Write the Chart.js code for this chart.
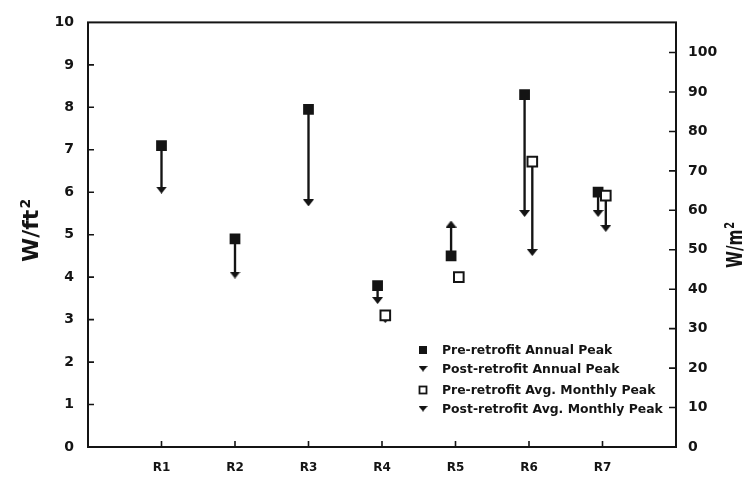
<!DOCTYPE html>
<html lang="en">
<head>
  <meta charset="UTF-8">
  <title>Peak demand before and after retrofit</title>
  <script src="https://cdn.jsdelivr.net/npm/chart.js"></script>
  <style>
    html, body { margin: 0; padding: 0; background: #fff; }
  </style>
</head>
<body>
  <canvas id="peakChart" width="744" height="477"></canvas>

  <script>
    // Data (W/ft2)
    const sites = ['R1', 'R2', 'R3', 'R4', 'R5', 'R6', 'R7'];
    const preAnnual = [7.1, 4.9, 7.95, 3.8, 4.5, 8.3, 6.0];
    const postAnnual = [6.05, 4.05, 5.75, 3.45, 5.25, 5.5, 5.5];
    const preMonthly = [null, null, null, 3.1, 4.0, 6.72, 5.92];
    const postMonthly = [null, null, null, 3.0, null, 4.58, 5.15];
    const leftTicks = [0, 1, 2, 3, 4, 5, 6, 7, 8, 9, 10];
    const rightTicks = [0, 10, 20, 30, 40, 50, 60, 70, 80, 90, 100];
    const seriesNames = [
      'Pre-retrofit Annual Peak',
      'Post-retrofit Annual Peak',
      'Pre-retrofit Avg. Monthly Peak',
      'Post-retrofit Avg. Monthly Peak'
    ];
    const WM2_PER_WFT2 = 10.764;

    const ink = '#141414';

    // small arrow head used as point style (points down, rotated for up)
    function arrowHead(w, h) {
      const c = document.createElement('canvas');
      c.width = w; c.height = h;
      const g = c.getContext('2d');
      g.fillStyle = ink;
      g.beginPath();
      g.moveTo(0, 0);
      g.lineTo(w, 0);
      g.lineTo(w / 2, h);
      g.closePath();
      g.fill();
      return c;
    }
    const arrow = arrowHead(11, 7);

    // sites with monthly data have the two pairs side by side
    const annualX = sites.map((s, i) => i + 1 + (preMonthly[i] !== null ? -0.06 : 0));
    const monthlyX = sites.map((s, i) => i + 1 + 0.045);

    const pts = (xs, ys) => ys.map((v, i) => ({ x: xs[i], y: v })).filter(p => p.y !== null);
    const spans = (xs, a, b) => a.map((v, i) => ({ x: xs[i], y: [v, b[i]] }))
      .filter(p => p.y[0] !== null && p.y[1] !== null);
    const turn = (a, b) => a.map((v, i) => (b[i] !== null && v !== null && b[i] > v) ? 180 : 0)
      .filter((r, i) => b[i] !== null);

    const frameAndTicks = {
      id: 'frameAndTicks',
      afterDatasetsDraw(chart) {
        const { ctx, chartArea: a, scales } = chart;
        ctx.save();
        ctx.strokeStyle = ink;
        ctx.lineWidth = 1.6;
        // inward tick marks
        ctx.beginPath();
        leftTicks.slice(1, -1).forEach(v => {
          const y = scales.y.getPixelForValue(v);
          ctx.moveTo(a.left, y); ctx.lineTo(a.left + 6, y);
        });
        rightTicks.slice(1).forEach(v => {
          const y = scales.y2.getPixelForValue(v);
          ctx.moveTo(a.right, y); ctx.lineTo(a.right - 7, y);
        });
        sites.forEach((s, i) => {
          const x = scales.x.getPixelForValue(i + 1);
          ctx.moveTo(x, a.bottom); ctx.lineTo(x, a.bottom - 6);
        });
        ctx.stroke();
        ctx.lineWidth = 2;
        ctx.strokeRect(a.left, a.top, a.right - a.left, a.bottom - a.top);
        ctx.restore();
      },
      afterDraw(chart) {
        const { ctx, chartArea: a } = chart;
        ctx.save();
        ctx.fillStyle = ink;
        ctx.strokeStyle = ink;

        // axis titles, both read bottom to top
        const title = (x, y, main, sup, size, squeeze) => {
          ctx.save();
          ctx.translate(x, y);
          ctx.rotate(-Math.PI / 2);
          ctx.scale(squeeze, 1);
          ctx.textAlign = 'left';
          ctx.textBaseline = 'alphabetic';
          ctx.font = 'bold ' + size + 'px "DejaVu Sans"';
          ctx.fillText(main, 0, 0);
          const w = ctx.measureText(main).width;
          ctx.font = 'bold ' + Math.round(size * 0.64) + 'px "DejaVu Sans"';
          ctx.fillText(sup, w + 1, -size * 0.36);
          ctx.restore();
        };
        title(38, 262, 'W/ft', '2', 22, 1);
        title(742, 268, 'W/m', '2', 22, 0.7);

        // legend, bottom right inside the plot
        const lx = a.left + 335, tx = a.left + 354;
        const rows = [a.bottom - 97, a.bottom - 78, a.bottom - 57, a.bottom - 38];
        ctx.font = 'bold 12.4px "DejaVu Sans"';
        ctx.textBaseline = 'middle';
        ctx.textAlign = 'left';
        seriesNames.forEach((name, i) => {
          const y = rows[i];
          if (i === 0) ctx.fillRect(lx - 4, y - 4, 8, 8);
          if (i === 2) { ctx.lineWidth = 1.8; ctx.strokeRect(lx - 3.5, y - 3.5, 7, 7); }
          if (i === 1 || i === 3) ctx.drawImage(arrow, lx - 4.5, y - 3, 9, 5.5);
          ctx.fillText(name, tx, y + 1);
        });
        ctx.restore();
      }
    };

    new Chart(document.getElementById('peakChart'), {
      type: 'scatter',
      data: {
        datasets: [
          {
            label: seriesNames[0],
            data: pts(annualX, preAnnual),
            pointStyle: 'rect',
            pointRadius: 7.6,
            backgroundColor: ink,
            borderWidth: 0,
            order: 1
          },
          {
            label: seriesNames[1],
            data: pts(annualX, postAnnual),
            pointStyle: arrow,
            pointRotation: turn(preAnnual, postAnnual),
            order: 1
          },
          {
            label: seriesNames[2],
            data: pts(monthlyX, preMonthly),
            pointStyle: 'rect',
            pointRadius: 6.8,
            backgroundColor: '#fff',
            borderColor: ink,
            borderWidth: 2,
            order: 0
          },
          {
            label: seriesNames[3],
            data: pts(monthlyX, postMonthly),
            pointStyle: arrow,
            pointRotation: turn(preMonthly, postMonthly),
            order: 1
          },
          {
            type: 'bar',
            label: 'annual change',
            data: spans(annualX, preAnnual, postAnnual),
            backgroundColor: ink,
            barThickness: 1.7,
            grouped: false,
            order: 5
          },
          {
            type: 'bar',
            label: 'monthly change',
            data: spans(monthlyX, preMonthly, postMonthly),
            backgroundColor: ink,
            barThickness: 1.7,
            grouped: false,
            order: 5
          }
        ]
      },
      options: {
        responsive: false,
        animation: false,
        events: [],
        layout: { padding: { top: 17, left: 0, right: 0, bottom: 0 } },
        plugins: {
          legend: { display: false },
          tooltip: { enabled: false }
        },
        scales: {
          x: {
            type: 'linear',
            min: 0,
            max: 8,
            offset: false,
            afterBuildTicks: s => { s.ticks = sites.map((n, i) => ({ value: i + 1 })); },
            afterFit: s => { s.height = 30; },
            grid: { display: false, drawTicks: false, offset: false },
            border: { display: false },
            ticks: {
              callback: v => sites[v - 1],
              color: ink,
              padding: 14,
              maxRotation: 0,
              font: { family: '"DejaVu Sans"', weight: 'bold', size: 12 }
            }
          },
          y: {
            position: 'left',
            min: 0,
            max: 10,
            afterBuildTicks: s => { s.ticks = leftTicks.map(v => ({ value: v })); },
            afterFit: s => { s.width = 88; },
            grid: { display: false, drawTicks: false },
            border: { display: false },
            ticks: {
              color: ink,
              padding: 14,
              font: { family: '"DejaVu Sans"', weight: 'bold', size: 14 }
            }
          },
          y2: {
            position: 'right',
            min: 0,
            max: 10 * WM2_PER_WFT2,
            afterBuildTicks: s => { s.ticks = rightTicks.map(v => ({ value: v })); },
            afterFit: s => { s.width = 68; },
            grid: { display: false, drawTicks: false },
            border: { display: false },
            ticks: {
              color: ink,
              padding: 12,
              font: { family: '"DejaVu Sans"', weight: 'bold', size: 14 }
            }
          }
        }
      },
      plugins: [frameAndTicks]
    });
  </script>
</body>
</html>
